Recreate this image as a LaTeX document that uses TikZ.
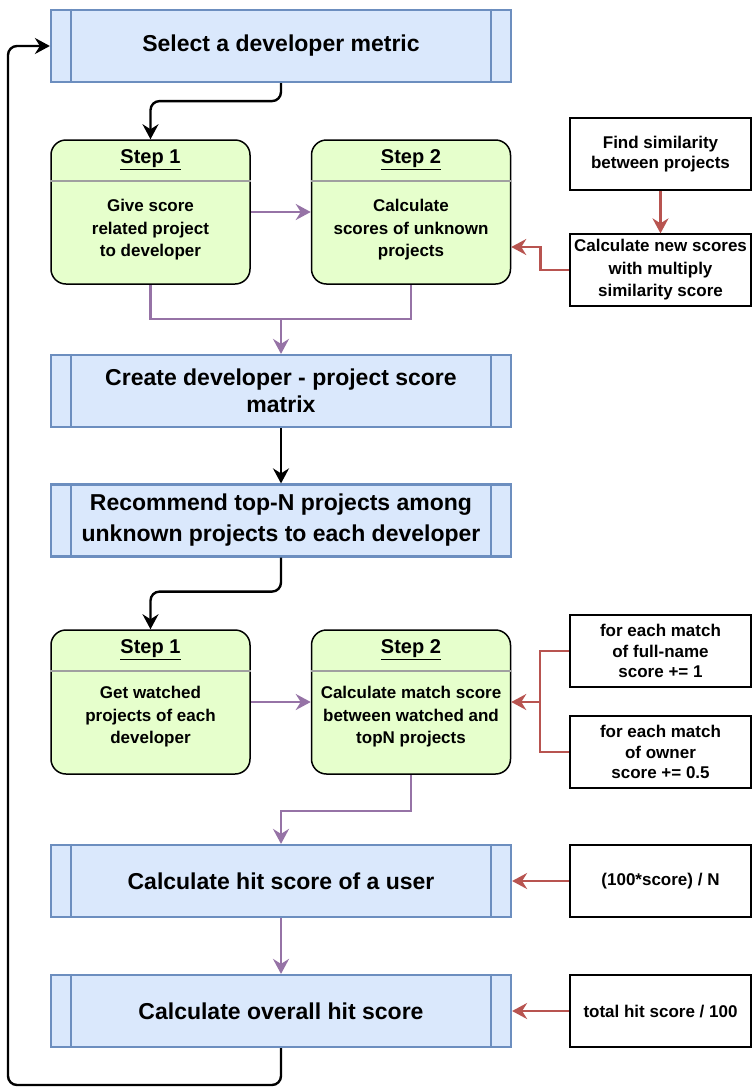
\documentclass[tikz,border=0pt]{standalone}
\usepackage{fontspec}
\setmainfont{Liberation Sans}
\usetikzlibrary{arrows.meta,calc}
\definecolor{bfill}{HTML}{DAE8FC}
\definecolor{bline}{HTML}{6C8EBF}
\definecolor{gfill}{HTML}{E6FFCC}
\definecolor{purp}{HTML}{9673A6}
\definecolor{redd}{HTML}{B85450}
\definecolor{divc}{HTML}{A0A0A0}
\newcommand\procsides[1]{%
  \draw[bline,line width=2.2pt] ([xshift=21pt]#1.north west) -- ([xshift=21pt]#1.south west);
  \draw[bline,line width=2.2pt] ([xshift=-21pt]#1.north east) -- ([xshift=-21pt]#1.south east);}
\newcommand\stepdiv[1]{%
  \draw[divc,line width=2.2pt] ([yshift=-42pt]#1.north west) -- ([yshift=-42pt]#1.north east);}
\begin{document}
\begin{tikzpicture}[x=1pt,y=-1pt,
  proc/.style={draw=bline,fill=bfill,line width=2.2pt,minimum width=460pt,minimum height=72pt,inner sep=0pt,align=center,font=\fontsize{23}{29}\selectfont\bfseries},
  stepbox/.style={draw=black,fill=gfill,line width=1.5pt,rounded corners=15pt,minimum width=199pt,minimum height=144pt,inner sep=0pt},
  steptitle/.style={font=\fontsize{20}{24}\selectfont\bfseries,inner sep=0pt},
  stepbody/.style={font=\fontsize{17}{22.5}\selectfont\bfseries,align=center,inner sep=0pt},
  note/.style={draw=black,fill=white,line width=1.3pt,minimum width=181pt,minimum height=72pt,inner sep=0pt,align=center,font=\fontsize{17}{21}\selectfont\bfseries},
  tip/.style={-{Stealth[length=15pt,width=16pt,inset=5pt]}},
  blk/.style={draw=black,line width=2.4pt,rounded corners=9pt},
  pur/.style={draw=purp,line width=2.4pt},
  red/.style={draw=redd,line width=2.4pt}]
\useasboundingbox (0,0) rectangle (752,1088);
\fill[white] (0,0) rectangle (752,1088);

% main process boxes
\node[proc] (b1) at (281,46) {Select a developer metric};
\procsides{b1}
\node[proc,font=\fontsize{23}{27}\selectfont\bfseries] (b2) at (281,391) {Create developer - project score\\matrix};
\procsides{b2}
\node[proc,font=\fontsize{23}{31}\selectfont\bfseries] (b3) at (281,520.5) {Recommend top-N projects among\\unknown projects to each developer};
\procsides{b3}
\node[proc] (b4) at (281,881) {Calculate hit score of a user};
\procsides{b4}
\node[proc] (b5) at (281,1011) {Calculate overall hit score};
\procsides{b5}

% step boxes (first group)
\node[stepbox] (s1) at (150.5,212) {};
\stepdiv{s1}
\node[steptitle] (s1t) at (150.5,159.5) {\underline{Step 1}};
\node[stepbody] (s1b) at (150.5,230) {Give score\\related project\\to developer};
\node[stepbox] (s2) at (411,212) {};
\stepdiv{s2}
\node[steptitle] (s2t) at (411,159.5) {\underline{Step 2}};
\node[stepbody] (s2b) at (411,230) {Calculate\\scores of unknown\\projects};

% step boxes (second group)
\node[stepbox] (s3) at (150.5,702) {};
\stepdiv{s3}
\node[steptitle] (s3t) at (150.5,649.5) {\underline{Step 1}};
\node[stepbody] (s3b) at (150.5,717) {Get watched\\projects of each\\developer};
\node[stepbox] (s4) at (411,702) {};
\stepdiv{s4}
\node[steptitle] (s4t) at (411,649.5) {\underline{Step 2}};
\node[stepbody] (s4b) at (411,717) {Calculate match score\\between watched and\\topN projects};

% side notes
\node[note,font=\fontsize{17}{20}\selectfont\bfseries] (f1) at (660.5,154) {Find similarity\\between projects};
\node[note,font=\fontsize{17}{22.5}\selectfont\bfseries] (f2) at (660.5,270) {Calculate new scores\\with multiply\\similarity score};
\node[note,font=\fontsize{17}{20.5}\selectfont\bfseries] (g1) at (660.5,651) {for each match\\of full-name\\score += 1};
\node[note,font=\fontsize{17}{20.5}\selectfont\bfseries] (g2) at (660.5,752) {for each match\\of owner\\score += 0.5};
\node[note] (h1) at (660.5,881) {(100*score) / N};
\node[note] (h2) at (660.5,1011) {total hit score / 100};

% black connectors
\draw[blk,tip] (b1.south) -- ++(0,18) -| (s1.north);
\draw[blk,tip] (b2.south) -- (b3.north);
\draw[blk,tip] (b3.south) -- ++(0,34) -| (s3.north);
\coordinate (lp) at (8,1085);
\draw[blk,tip] (b5.south) |- (lp) |- (b1.west);

% purple connectors
\draw[pur,tip] (s1.east) -- (s2.west);
\coordinate (m1) at (281,319);
\draw[pur] (s1.south) |- (m1) -| (s2.south);
\draw[pur,tip] (m1) -- (b2.north);
\draw[pur,tip] (s3.east) -- (s4.west);
\draw[pur,tip] (s4.south) -- ++(0,36) -| (b4.north);
\draw[pur,tip] (b4.south) -- (b5.north);

% red connectors
\draw[red,tip] (f1.south) -- (f2.north);
\draw[red,tip] (f2.west) -- ++(-29,0) |- ([yshift=-35pt]s2.east);
\coordinate (j1) at (540,702);
\draw[red] (g1.west) -| (j1) |- (g2.west);
\draw[red,tip] (j1) -- (s4.east);
\draw[red,tip] (h1.west) -- (b4.east);
\draw[red,tip] (h2.west) -- (b5.east);
\end{tikzpicture}
\end{document}
